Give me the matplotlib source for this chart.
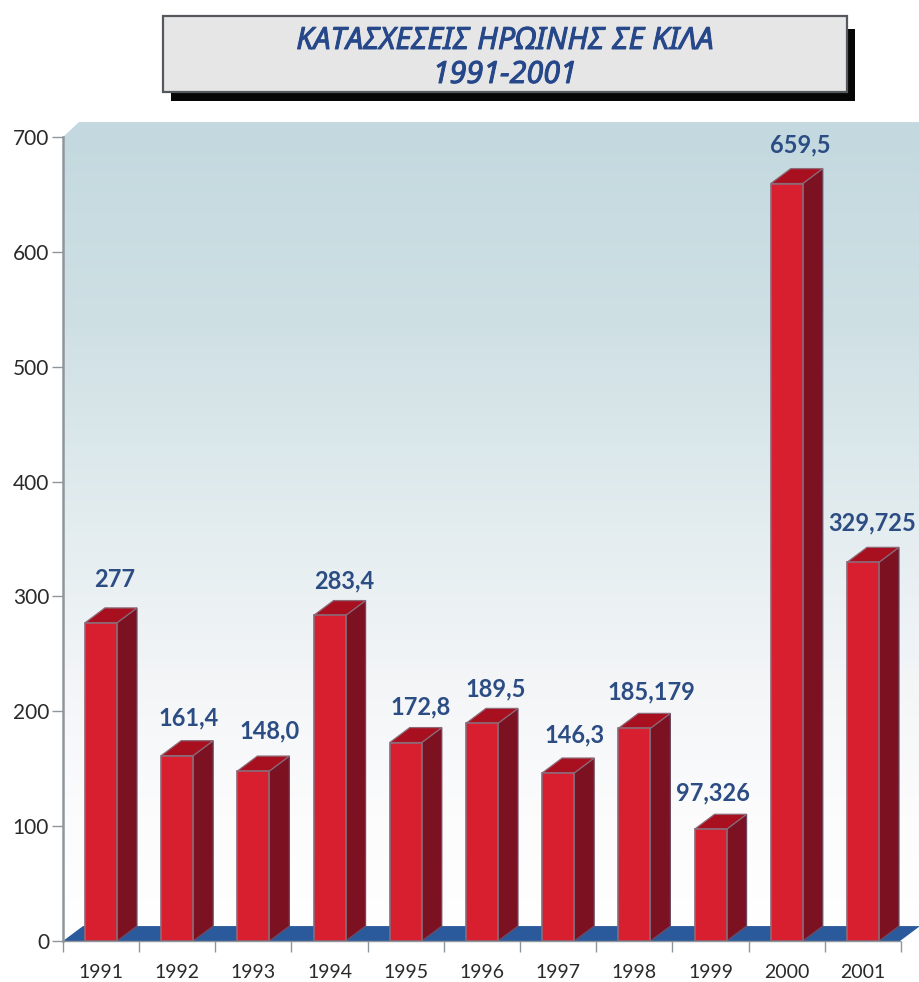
import matplotlib
matplotlib.use("Agg")
import matplotlib.pyplot as plt
import matplotlib.patheffects as pe
import numpy as np
from matplotlib.colors import LinearSegmentedColormap
from matplotlib.patches import Polygon, Rectangle

# Data
years = ["1991", "1992", "1993", "1994", "1995", "1996", "1997", "1998", "1999", "2000", "2001"]
kilos = [277, 161.4, 148.0, 283.4, 172.8, 189.5, 146.3, 185.179, 97.326, 659.5, 329.725]
value_labels = ["277", "161,4", "148,0", "283,4", "172,8", "189,5", "146,3", "185,179", "97,326", "659,5", "329,725"]
y_ticks = [0, 100, 200, 300, 400, 500, 600, 700]

# Label offsets from the bar's front top centre, in pixels
label_dx = [14, 11, 16, 15, 15, 14, 16, 17, 2, 14, 9]
label_dy = [43, 38, 40, 35, 36, 34, 38, 36, 36, 39, 39]

# Geometry of the fake 3D look
bar_width = 0.42
depth_x = 0.262
depth_y = 13

plt.rcParams["font.family"] = ["Lato", "Noto Sans", "DejaVu Sans"]

W, H = 920, 982
fig = plt.figure(figsize=(W / 100, H / 100), dpi=100, facecolor="white")

# Overlay in pixel coordinates, only for the title box
over = fig.add_axes([0, 0, 1, 1], zorder=5)
over.set_xlim(0, W)
over.set_ylim(H, 0)
over.axis("off")
over.add_patch(Rectangle((171, 29), 684, 72, facecolor="#060606", edgecolor="none"))
over.add_patch(Rectangle((163, 16), 684, 76, facecolor="#e6e6e6", edgecolor="#55585c", linewidth=1.6))
# the italic Noto has no bold here, a thin stroke thickens it
title_stroke = [pe.withStroke(linewidth=0.7, foreground="#26488a")]
over.text(505, 41, "ΚΑΤΑΣΧΕΣΕΙΣ ΗΡΩΙΝΗΣ ΣΕ ΚΙΛΑ", ha="center", va="center", fontsize=22,
          style="italic", color="#26488a", family=["Noto Sans", "DejaVu Sans"], path_effects=title_stroke)
over.text(505, 75, "1991-2001", ha="center", va="center", fontsize=22,
          style="italic", color="#26488a", family=["Noto Sans", "DejaVu Sans"], path_effects=title_stroke)

# Main axes: y 0 at pixel 941, y 700 at pixel 137
ax = fig.add_axes([63 / W, (H - 941) / H, (W - 63) / W, 804 / H])
x_left = -38 / 76.2
x_right = x_left + (W - 63) / 76.2
top = 700 + depth_y

# Back wall gradient, clipped to the chamfered corner
cmap = LinearSegmentedColormap.from_list(
    "wall", [(0, "#c3d9df"), (0.25, "#cfe0e4"), (0.5, "#e4edf0"), (0.68, "#f3f5f7"), (0.85, "#fcfcfd"), (1, "#ffffff")]
)
grad = np.linspace(0, 1, 256).reshape(-1, 1)
im = ax.imshow(grad, cmap=cmap, aspect="auto", extent=[x_left, x_right, 0, top], zorder=0)
wall = Polygon([[x_left, 0], [x_left, 700], [x_left + depth_x * 0.8, top], [x_right, top], [x_right, 0]],
               closed=True, transform=ax.transData, facecolor="none", edgecolor="none", clip_on=False)
ax.add_patch(wall)
im.set_clip_box(fig.bbox)
im.set_clip_path(wall)

# Blue floor
ax.add_patch(Polygon([[x_left, 0], [x_left + depth_x, depth_y], [x_right, depth_y],
                      [x_right - depth_x, 0]], closed=True, facecolor="#2b5a9c", edgecolor="none",
                     zorder=1, clip_on=False))

# Bars, each one built from front, side and top faces
edge = "#8c6a78"
for i, v in enumerate(kilos):
    x0 = i - bar_width / 2
    x1 = i + bar_width / 2
    side = [[x1, 0], [x1 + depth_x, depth_y], [x1 + depth_x, v + depth_y], [x1, v]]
    cap = [[x0, v], [x1, v], [x1 + depth_x, v + depth_y], [x0 + depth_x, v + depth_y]]
    ax.add_patch(Polygon(side, closed=True, facecolor="#7c1122", edgecolor="#6e4a62", linewidth=0.9, zorder=2))
    ax.add_patch(Polygon(cap, closed=True, facecolor="#a80f1f", edgecolor=edge, linewidth=0.9, zorder=2))
    ax.add_patch(Rectangle((x0, 0), bar_width, v, facecolor="#d81f2f", edgecolor=edge, linewidth=1.2, zorder=3))
    ax.annotate(value_labels[i], (i, v), xytext=(label_dx[i] * 0.72, label_dy[i] * 0.72),
                textcoords="offset points", ha="center", va="center", fontsize=17,
                fontweight="bold", color="#2c4d84", zorder=6, annotation_clip=False)

ax.set_xlim(x_left, x_right)
ax.set_ylim(0, 700)
ax.patch.set_alpha(0)

# Axes styling
for name in ["top", "right"]:
    ax.spines[name].set_visible(False)
ax.spines["left"].set_color("#8f969b")
ax.spines["left"].set_linewidth(1.8)
ax.spines["left"].set_bounds(0, 700)
ax.spines["bottom"].set_color("#8f969b")
ax.spines["bottom"].set_linewidth(1.0)
ax.spines["bottom"].set_bounds(x_left, x_right - depth_x)

ax.set_yticks(y_ticks)
ax.set_yticklabels([str(t) for t in y_ticks], fontsize=15, color="#2a2a2a")
ax.tick_params(axis="y", length=8, width=1, color="#8f969b", pad=2)

# Ticks sit between the categories, the year labels under the bars
ax.set_xticks([x_left] + list(np.arange(len(years)) + 0.5))
ax.set_xticklabels([])
ax.tick_params(axis="x", length=8, width=1, color="#8f969b")
for i, year in enumerate(years):
    ax.annotate(year, (i, 0), xytext=(0, -31 * 0.72), textcoords="offset points", ha="center", va="center",
                fontsize=14, color="#2a2a2a", annotation_clip=False)

fig.savefig("out.png", dpi=100)
